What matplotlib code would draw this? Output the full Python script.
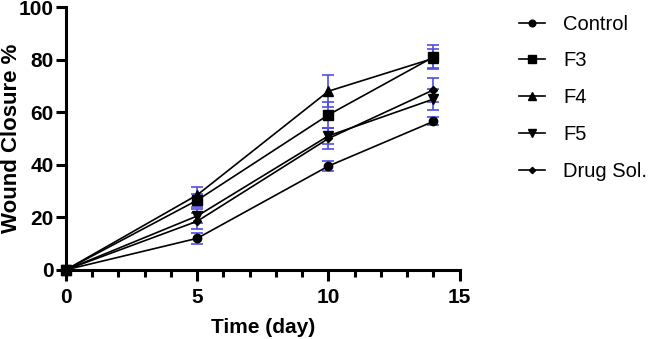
import matplotlib.pyplot as plt
import numpy as np

plt.rcParams['font.family'] = ['Liberation Sans', 'DejaVu Sans']

days = [0, 5, 10, 14]

# mean wound closure (%) and error (SD) per group
control = [0, 12, 39.5, 56.5]
control_err = [0, 2, 2, 1.5]
f3 = [0, 26.5, 59, 81]
f3_err = [0, 2.5, 5, 4.5]
f4 = [0, 28.5, 68, 80.5]
f4_err = [0, 3, 6, 3.5]
f5 = [0, 20.5, 51, 65]
f5_err = [0, 2.5, 3, 4]
drug_sol = [0, 18.5, 50, 68.5]
drug_sol_err = [0, 3, 4, 4.5]

groups = ['Control', 'F3', 'F4', 'F5', 'Drug Sol.']
markers = ['o', 's', '^', 'v', 'D']
means = [control, f3, f4, f5, drug_sol]
errs = [control_err, f3_err, f4_err, f5_err, drug_sol_err]
msizes = [6, 6.5, 6.5, 6.5, 4]

fig = plt.figure(figsize=(6.53, 3.39), dpi=100)
ax = fig.add_axes([0.101, 0.204, 0.603, 0.775])

for name, m, y, e, ms in zip(groups, markers, means, errs, msizes):
    ax.errorbar(days, y, yerr=e, fmt='none', ecolor='#4f4fe8', elinewidth=1.2,
                capsize=4, capthick=1.2, zorder=2)
    ax.plot(days, y, color='black', marker=m, markersize=ms, linewidth=1.2,
            label=name, zorder=3, clip_on=False)

ax.set_xlim(0, 15)
ax.set_ylim(0, 100)
ax.set_xticks([0, 5, 10, 15])
ax.set_xticks(np.arange(0, 16, 1), minor=True)
ax.set_yticks([0, 20, 40, 60, 80, 100])

for s in ['top', 'right']:
    ax.spines[s].set_visible(False)
for s in ['left', 'bottom']:
    ax.spines[s].set_linewidth(2.2)

ax.tick_params(axis='y', which='major', length=7, width=2.2, labelsize=15, pad=2)
ax.tick_params(axis='x', which='major', length=8, width=2.2, labelsize=15, pad=5)
ax.tick_params(axis='x', which='minor', length=5, width=2.2)
for lbl in ax.get_xticklabels() + ax.get_yticklabels():
    lbl.set_fontweight('bold')

ax.set_xlabel('Time (day)', fontsize=15, fontweight='bold', labelpad=8)
ax.set_ylabel('Wound Closure %', fontsize=16, fontweight='bold')
ax.yaxis.set_label_coords(-0.112, 0.5)

leg = ax.legend(loc='upper left', bbox_to_anchor=(1.105, 1.04), frameon=False,
                fontsize=14.5, handlelength=1.3, labelspacing=0.88,
                handletextpad=0.9, markerscale=0.8)

fig.savefig('out.png', dpi=100)
